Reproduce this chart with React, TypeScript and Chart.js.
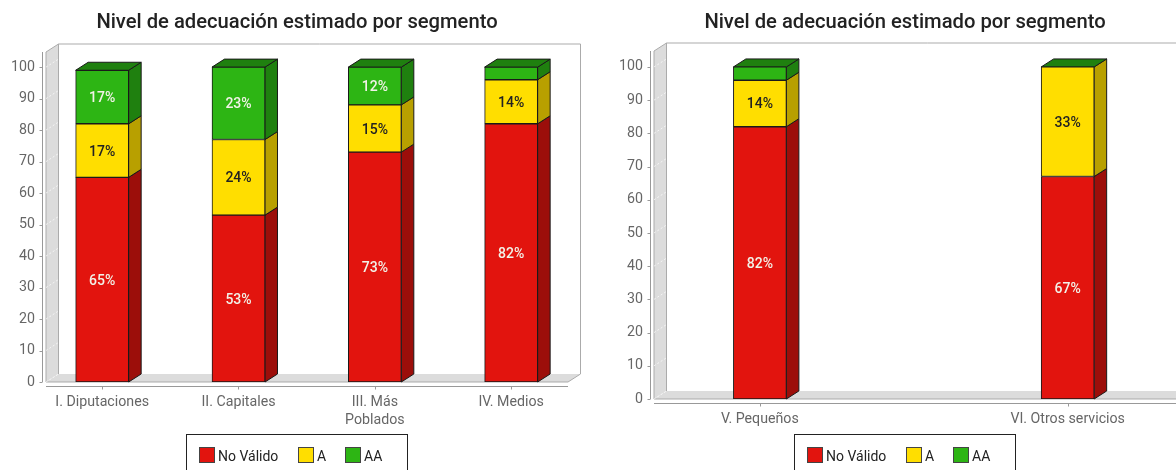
import React, { useEffect, useRef } from "react";
import { Chart, registerables } from "chart.js";

Chart.register(...registerables);

const titleText = "Nivel de adecuación estimado por segmento";
const seriesNames = ["No Válido", "A", "AA"];
const frontColors = ["#E2140E", "#FFDE00", "#2DB514"];
const sideColors = ["#9C0E0A", "#B8A000", "#1F800F"];
const topColor = "#1F800F";

const categoriesLeft = ["I. Diputaciones", "II. Capitales", ["III. Más", "Poblados"], "IV. Medios"];
const noValidoLeft = [65, 53, 73, 82];
const aLeft = [17, 24, 15, 14];
const aaLeft = [17, 23, 12, 4];

const categoriesRight = ["V. Pequeños", "VI. Otros servicios"];
const noValidoRight = [82, 67];
const aRight = [14, 33];
const aaRight = [4, 0];

const DX = 12.5;
const DY = 8;
const FONT = "Roboto, sans-serif";

const decor3d = {
  id: "decor3d",
  beforeDatasetsDraw(chart: any) {
    const { ctx, chartArea: a, scales } = chart;
    const y = scales.y;
    const x = scales.x;
    ctx.save();
    // back wall
    ctx.fillStyle = "#FFFFFF";
    ctx.fillRect(a.left + DX, a.top - DY, a.right - a.left, a.bottom - a.top);
    // left wall
    ctx.fillStyle = "#DCDCDC";
    ctx.beginPath();
    ctx.moveTo(a.left, a.top);
    ctx.lineTo(a.left + DX, a.top - DY);
    ctx.lineTo(a.left + DX, a.bottom - DY);
    ctx.lineTo(a.left, a.bottom);
    ctx.closePath();
    ctx.fill();
    // floor
    ctx.beginPath();
    ctx.moveTo(a.left, a.bottom);
    ctx.lineTo(a.left + DX, a.bottom - DY);
    ctx.lineTo(a.right + DX, a.bottom - DY);
    ctx.lineTo(a.right, a.bottom);
    ctx.closePath();
    ctx.fill();
    // wall outlines
    ctx.strokeStyle = "#ABABAB";
    ctx.lineWidth = 1;
    ctx.beginPath();
    ctx.moveTo(a.left, a.bottom);
    ctx.lineTo(a.left, a.top);
    ctx.lineTo(a.left + DX, a.top - DY);
    ctx.lineTo(a.right + DX, a.top - DY);
    ctx.lineTo(a.right + DX, a.bottom - DY);
    ctx.lineTo(a.right, a.bottom);
    ctx.lineTo(a.left, a.bottom);
    ctx.moveTo(a.left + DX, a.top - DY);
    ctx.lineTo(a.left + DX, a.bottom - DY);
    ctx.stroke();
    // faint gridlines on the left wall
    ctx.strokeStyle = "rgba(255,255,255,0.7)";
    ctx.setLineDash([2, 2]);
    ctx.beginPath();
    y.ticks.forEach((t: any) => {
      const py = y.getPixelForValue(t.value);
      ctx.moveTo(a.left, py);
      ctx.lineTo(a.left + DX, py - DY);
    });
    ctx.stroke();
    ctx.setLineDash([]);
    // value axis
    ctx.strokeStyle = "#999999";
    ctx.beginPath();
    const ax = Math.round(a.left - 4) + 0.5;
    ctx.moveTo(ax, a.top);
    ctx.lineTo(ax, a.bottom);
    y.ticks.forEach((t: any) => {
      const py = Math.round(y.getPixelForValue(t.value)) + 0.5;
      ctx.moveTo(ax - 3, py);
      ctx.lineTo(ax, py);
    });
    // category axis
    const by = Math.round(a.bottom + 4) + 0.5;
    ctx.moveTo(a.left, by);
    ctx.lineTo(a.right, by);
    x.ticks.forEach((t: any) => {
      const px = Math.round(x.getPixelForValue(t.value)) + 0.5;
      ctx.moveTo(px, by);
      ctx.lineTo(px, by + 3);
    });
    ctx.stroke();
    // bar side faces and top faces
    const metas = chart.data.datasets.map((_: any, i: number) => chart.getDatasetMeta(i));
    const count = chart.data.datasets[0].data.length;
    ctx.strokeStyle = "#1A1A1A";
    for (let c = 0; c < count; c++) {
      let top: any = null;
      metas.forEach((m: any, s: number) => {
        const bar = m.data[c];
        if (!chart.data.datasets[s].data[c].y) return;
        const r = bar.x + bar.width / 2;
        ctx.fillStyle = sideColors[s];
        ctx.beginPath();
        ctx.moveTo(r, bar.y);
        ctx.lineTo(r + DX, bar.y - DY);
        ctx.lineTo(r + DX, bar.base - DY);
        ctx.lineTo(r, bar.base);
        ctx.closePath();
        ctx.fill();
        ctx.stroke();
        top = bar;
      });
      if (top) {
        const l = top.x - top.width / 2;
        const r = top.x + top.width / 2;
        ctx.fillStyle = topColor;
        ctx.beginPath();
        ctx.moveTo(l, top.y);
        ctx.lineTo(l + DX, top.y - DY);
        ctx.lineTo(r + DX, top.y - DY);
        ctx.lineTo(r, top.y);
        ctx.closePath();
        ctx.fill();
        ctx.stroke();
      }
    }
    ctx.restore();
  },
  afterDatasetsDraw(chart: any) {
    const { ctx } = chart;
    ctx.save();
    // value labels
    ctx.font = `500 14px ${FONT}`;
    ctx.textAlign = "center";
    ctx.textBaseline = "middle";
    chart.data.datasets.forEach((ds: any, s: number) => {
      chart.getDatasetMeta(s).data.forEach((bar: any, c: number) => {
        const v = ds.data[c].y;
        if (v < 5) return;
        ctx.fillStyle = s === 1 ? "#222222" : "#F2F2E8";
        ctx.fillText(`${v}%`, bar.x, (bar.y + bar.base) / 2 + 1.5);
      });
    });
    // legend
    const cw = chart.width;
    const bx = cw / 2 - 111;
    ctx.strokeStyle = "#222222";
    ctx.lineWidth = 1;
    ctx.strokeRect(Math.round(bx) + 0.5, 434.5, 221, 40);
    const offsets = [13, 112, 159];
    ctx.font = `14px ${FONT}`;
    ctx.textAlign = "left";
    chart.data.datasets.forEach((ds: any, s: number) => {
      const sx = Math.round(bx) + offsets[s];
      ctx.fillStyle = frontColors[s];
      ctx.fillRect(sx + 0.5, 447.5, 15, 15);
      ctx.strokeStyle = "#444444";
      ctx.strokeRect(sx + 0.5, 447.5, 15, 15);
      ctx.fillStyle = "#222222";
      ctx.fillText(ds.label, sx + 19, 457);
    });
    ctx.restore();
  },
};

function build(canvas: HTMLCanvasElement, cats: any[], nv: number[], a: number[], aa: number[], bottomSpace: number, top: number, xMin: number, xMax: number) {
  const toPts = (arr: number[]) => arr.map((v, i) => ({ x: i, y: v }));
  const series = [nv, a, aa];
  return new Chart(canvas, {
    type: "bar",
    data: {
      datasets: series.map((vals, i) => ({
        label: seriesNames[i],
        data: toPts(vals) as any,
        backgroundColor: frontColors[i],
        borderColor: "#1A1A1A",
        borderWidth: 1,
        borderSkipped: false,
        barThickness: 53,
      })),
    },
    options: {
      animation: false,
      responsive: false,
      layout: { padding: 0 },
      plugins: {
        legend: { display: false },
        tooltip: { enabled: false },
        title: {
          display: true,
          text: titleText,
          color: "#222222",
          font: { family: FONT, size: 20.2, weight: "500" },
          padding: { top: 11, bottom: top - 11 - 24.24 },
        },
      },
      scales: {
        x: {
          type: "linear",
          stacked: true,
          offset: false,
          min: xMin,
          max: xMax,
          grid: { display: false, drawTicks: false, offset: false },
          border: { display: false },
          afterBuildTicks: (ax: any) => {
            ax.ticks = cats.map((_, i) => ({ value: i }));
          },
          afterFit: (ax: any) => {
            ax.height = bottomSpace;
          },
          ticks: {
            autoSkip: false,
            maxRotation: 0,
            padding: 11.5,
            color: "#666666",
            font: { family: FONT, size: 14.2, lineHeight: 1.25 },
            callback: (v: any) => cats[v],
          },
        },
        y: {
          stacked: true,
          min: 0,
          max: 104.8,
          grid: { display: false, drawTicks: false },
          border: { display: false },
          afterFit: (ax: any) => {
            ax.width = 46;
          },
          ticks: {
            stepSize: 10,
            includeBounds: false,
            padding: 11,
            color: "#666666",
            font: { family: FONT, size: 14.2 },
          },
        },
        // empty margin on the right, which keeps the title centred on the whole canvas
        rightMargin: {
          axis: "y",
          position: "right",
          grid: { display: false, drawTicks: false },
          border: { display: false },
          ticks: { display: false },
          afterFit: (ax: any) => {
            ax.width = 26;
          },
        },
      },
    } as any,
    plugins: [decor3d],
  });
}

export default function App() {
  const leftRef = useRef<HTMLCanvasElement>(null);
  const rightRef = useRef<HTMLCanvasElement>(null);
  useEffect(() => {
    const c1 = build(leftRef.current!, categoriesLeft, noValidoLeft, aLeft, aaLeft, 88, 52, -0.412, 3.417);
    const c2 = build(rightRef.current!, categoriesRight, noValidoRight, aRight, aaRight, 71, 51, -0.344, 1.352);
    return () => {
      c1.destroy();
      c2.destroy();
    };
  }, []);
  return (
    <div style={{ position: "fixed", left: 0, top: 0, width: 1176, height: 470, overflow: "hidden", background: "#fff" }}>
      <canvas ref={leftRef} width={594} height={470} style={{ position: "absolute", left: 0, top: 0, width: 594, height: 470 }} />
      <canvas ref={rightRef} width={594} height={470} style={{ position: "absolute", left: 608, top: 0, width: 594, height: 470 }} />
    </div>
  );
}
